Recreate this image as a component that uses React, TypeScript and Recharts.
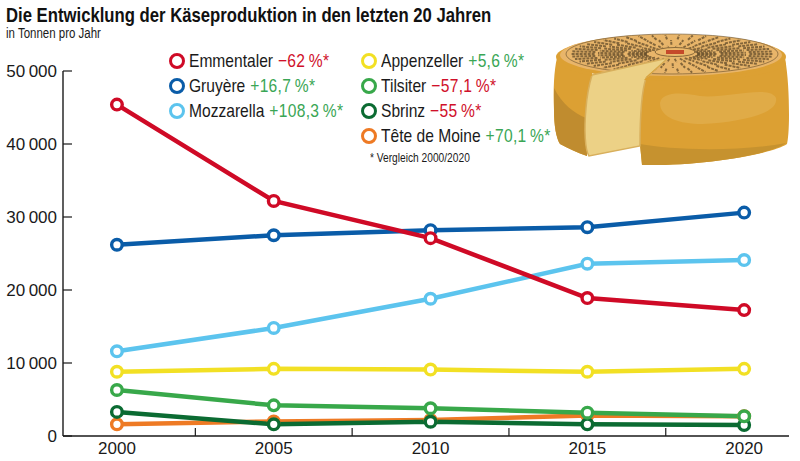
import { LineChart, Line, XAxis, YAxis, Legend } from 'recharts';

const YEARS = [2000, 2005, 2010, 2015, 2020];
const X_TICKS = [2000, 2002.5, 2005, 2007.5, 2010, 2012.5, 2015, 2017.5, 2020];
const Y_TICKS = [0, 10000, 20000, 30000, 40000, 50000];

const EMMENTALER = [45400, 32200, 27100, 18900, 17250];
const GRUYERE = [26200, 27500, 28200, 28600, 30600];
const MOZZARELLA = [11600, 14800, 18800, 23600, 24100];
const APPENZELLER = [8800, 9200, 9100, 8800, 9200];
const TILSITER = [6300, 4200, 3800, 3200, 2700];
const SBRINZ = [3300, 1600, 1950, 1600, 1500];
const TETE = [1600, 2000, 2200, 2800, 2700];

const RED = '#d0102a';
const GREEN_TXT = '#3aa655';

const LEGEND_LEFT = [
  { name: 'Emmentaler', change: '−62\u2009%*', up: false, color: '#cf0a26' },
  { name: 'Gruyère', change: '+16,7\u2009%*', up: true, color: '#0a5ca8' },
  { name: 'Mozzarella', change: '+108,3\u2009%*', up: true, color: '#5cc4ee' },
];
const LEGEND_RIGHT = [
  { name: 'Appenzeller', change: '+5,6\u2009%*', up: true, color: '#f2e024' },
  { name: 'Tilsiter', change: '−57,1\u2009%*', up: false, color: '#38a84a' },
  { name: 'Sbrinz', change: '−55\u2009%*', up: false, color: '#0b6b32' },
  { name: 'Tête de Moine', change: '+70,1\u2009%*', up: true, color: '#ee7a24' },
];

// drawn back to front
const SERIES = [
  { name: 'Tête de Moine', values: TETE, color: '#ee7a24' },
  { name: 'Sbrinz', values: SBRINZ, color: '#0b6b32' },
  { name: 'Tilsiter', values: TILSITER, color: '#38a84a' },
  { name: 'Appenzeller', values: APPENZELLER, color: '#f2e024' },
  { name: 'Mozzarella', values: MOZZARELLA, color: '#5cc4ee' },
  { name: 'Gruyère', values: GRUYERE, color: '#0a5ca8' },
  { name: 'Emmentaler', values: EMMENTALER, color: '#cf0a26' },
];

const rows = YEARS.map((year, i) => {
  const row: Record<string, number> = { year };
  SERIES.forEach(s => { row[s.name] = s.values[i]; });
  return row;
});

const FONT = '"Liberation Sans", sans-serif';

function fmtThousands(v: number): string {
  if (v === 0) return '0';
  return `${Math.round(v / 1000)}\u2009000`;
}

function XTick({ x, y, payload }: any) {
  if (payload.value % 5 !== 0) {
    return <line x1={x} x2={x} y1={y} y2={y - 8} stroke="#1a1a1a" strokeWidth={1.2} />;
  }
  return (
    <text x={x} y={y + 18} textAnchor="middle" fontSize={17} fill="#1a1a1a" fontFamily={FONT}>
      {payload.value}
    </text>
  );
}

function YTick({ x, y, payload }: any) {
  return (
    <g>
      <line x1={x} x2={x + 9} y1={y} y2={y} stroke="#1a1a1a" strokeWidth={1.2} />
      <text x={x - 6} y={y + 6} textAnchor="end" fontSize={17} fill="#1a1a1a" fontFamily={FONT}>
        {fmtThousands(payload.value)}
      </text>
    </g>
  );
}

function LegendColumn({ items, left }: { items: typeof LEGEND_LEFT; left: number }) {
  return (
    <div style={{ position: 'absolute', left, top: 0 }}>
      {items.map(it => (
        <div key={it.name} style={{ display: 'flex', alignItems: 'center', height: 25, whiteSpace: 'nowrap' }}>
          <span style={{ width: 10, height: 10, border: `3.5px solid ${it.color}`, borderRadius: '50%', marginRight: 4, background: '#fff', flex: 'none' }} />
          <span style={{ display: 'inline-block', fontSize: 19, lineHeight: '22px', transform: 'scaleX(0.82)', transformOrigin: 'left center' }}>
            <span style={{ color: '#1a1a1a' }}>{it.name}</span>
            <span style={{ color: it.up ? GREEN_TXT : RED, marginLeft: 6, letterSpacing: 0.4 }}>{it.change}</span>
          </span>
        </div>
      ))}
    </div>
  );
}

function ChartLegend() {
  return (
    <div style={{ position: 'relative', fontFamily: FONT }}>
      <LegendColumn items={LEGEND_LEFT} left={0} />
      <LegendColumn items={LEGEND_RIGHT} left={192} />
      <div style={{ position: 'absolute', left: 201, top: 103, fontSize: 12, lineHeight: '13px', color: '#1a1a1a', whiteSpace: 'nowrap', transform: 'scaleX(0.85)', transformOrigin: 'left center' }}>
        * Vergleich 2000/2020
      </div>
    </div>
  );
}

// the cheese wheel, an illustration, not data
const STAMP_RINGS = [
  { from: 0.24, to: 0.42, count: 30, width: 1.8 },
  { from: 0.46, to: 0.7, count: 38, width: 2 },
  { from: 0.73, to: 0.95, count: 46, width: 2 },
];

function Stamp() {
  const cx = 672, cy = 54, rx = 106, ry = 20;
  return (
    <g>
      {STAMP_RINGS.map((ring, ri) =>
        Array.from({ length: ring.count }, (_, i) => {
          const r = (i * 2 * Math.PI) / ring.count + ri * 0.07;
          return (
            <line
              key={`${ri}-${i}`}
              x1={cx + Math.cos(r) * rx * ring.from}
              y1={cy + Math.sin(r) * ry * ring.from}
              x2={cx + Math.cos(r) * rx * ring.to}
              y2={cy + Math.sin(r) * ry * ring.to}
              stroke="#5a4526"
              strokeWidth={ring.width}
              strokeDasharray="3 1"
              opacity={0.7}
            />
          );
        }),
      )}
      <ellipse cx={cx} cy={cy} rx={rx} ry={ry} fill="none" stroke="#5a4526" strokeWidth={0.8} opacity={0.7} />
      <ellipse cx={675} cy={52} rx={20} ry={4.5} fill="#eab86c" stroke="#8a6a3a" strokeWidth={1} />
      <rect x={666} y={50} width={18} height={4} fill="#c5492a" />
    </g>
  );
}

function Cheese() {
  return (
    <svg width={800} height={461} style={{ position: 'absolute', left: 0, top: 0, pointerEvents: 'none' }}>
      {/* body left of the cut */}
      <path d="M557 58 C554 70 553 90 554 110 C554 125 556 138 560 144 C568 148 578 153 587 156 L592 75 Z" fill="#dca033" />
      <path d="M554 88 C562 104 574 113 586 118 L587 156 C578 153 568 148 560 144 C556 138 554 125 554 110 Z" fill="#c08c2f" />
      {/* body right of the cut */}
      <path d="M645 76 C700 80 770 76 785 58 C788 75 789 95 789 115 C789 130 788 140 787 144 C770 155 700 166 642 165 L640 145 C639 120 640 95 645 76 Z" fill="#dca033" />
      <path d="M640 144 C670 150 740 152 786 143 C770 155 700 166 642 165 Z" fill="#c6922f" />
      <path d="M660 103 C662 92 680 92 700 96 C725 99 770 84 776 98 C779 114 740 122 702 124 C680 124 660 118 660 103 Z" fill="#e0ab47" />
      {/* top face */}
      <ellipse cx={671} cy={57} rx={115} ry={22.5} fill="#dca033" />
      <ellipse cx={671} cy={55} rx={111} ry={21} fill="#e8b56a" />
      <Stamp />
      {/* cut faces */}
      <path d="M592 75 L668 58 L646 78 C642 90 640 120 640 146 L589 156 C585 150 584 130 586 108 C587 95 589 85 592 75 Z" fill="#ecd186" stroke="#d8af5c" strokeWidth={1.5} />
      <path d="M557 62 C566 70 578 73 592 76 L592 72 C578 70 566 67 557 58 Z" fill="#dca033" />
      <path d="M668 58 L646 77 C680 82 760 78 785 60 L786 66 C760 80 690 83 644 80 Z" fill="#dca033" />
    </svg>
  );
}

export default function App() {
  return (
    <div style={{ position: 'absolute', left: 0, top: 0, width: 800, height: 461, background: '#fff', overflow: 'hidden' }}>
      <div style={{ position: 'absolute', left: 6, top: 5, fontFamily: FONT, fontWeight: 700, fontSize: 21, lineHeight: '20px', color: '#111', whiteSpace: 'nowrap', transform: 'scaleX(0.795)', transformOrigin: 'left center' }}>
        Die Entwicklung der Käseproduktion in den letzten 20 Jahren
      </div>
      <div style={{ position: 'absolute', left: 6, top: 26, fontFamily: FONT, fontSize: 14, lineHeight: '14px', color: '#1a1a1a', whiteSpace: 'nowrap', transform: 'scaleX(0.82)', transformOrigin: 'left center' }}>
        in Tonnen pro Jahr
      </div>
      <LineChart width={800} height={461} data={rows} margin={{ top: 71, right: 11, bottom: 0, left: 0 }}>
        <XAxis
          dataKey="year"
          type="number"
          domain={[1998.28, 2021.43]}
          ticks={X_TICKS}
          interval={0}
          tick={<XTick />}
          tickLine={false}
          tickSize={0}
          tickMargin={0}
          height={25}
          axisLine={{ stroke: '#1a1a1a', strokeWidth: 1.4 }}
        />
        <YAxis
          type="number"
          domain={[0, 50000]}
          ticks={Y_TICKS}
          interval={0}
          tick={<YTick />}
          tickLine={false}
          tickSize={0}
          tickMargin={0}
          width={63}
          axisLine={{ stroke: '#1a1a1a', strokeWidth: 1.4 }}
        />
        {SERIES.map(s => (
          <Line
            key={s.name}
            dataKey={s.name}
            stroke={s.color}
            strokeWidth={4.5}
            isAnimationActive={false}
            dot={{ r: 5.3, fill: '#fff', stroke: s.color, strokeWidth: 3.4 }}
          />
        ))}
        <Legend
          layout="horizontal"
          align="center"
          verticalAlign="middle"
          content={<ChartLegend />}
          wrapperStyle={{ position: 'absolute', left: 169, top: 48.5, width: 400, height: 130 }}
        />
      </LineChart>
      <Cheese />
    </div>
  );
}
